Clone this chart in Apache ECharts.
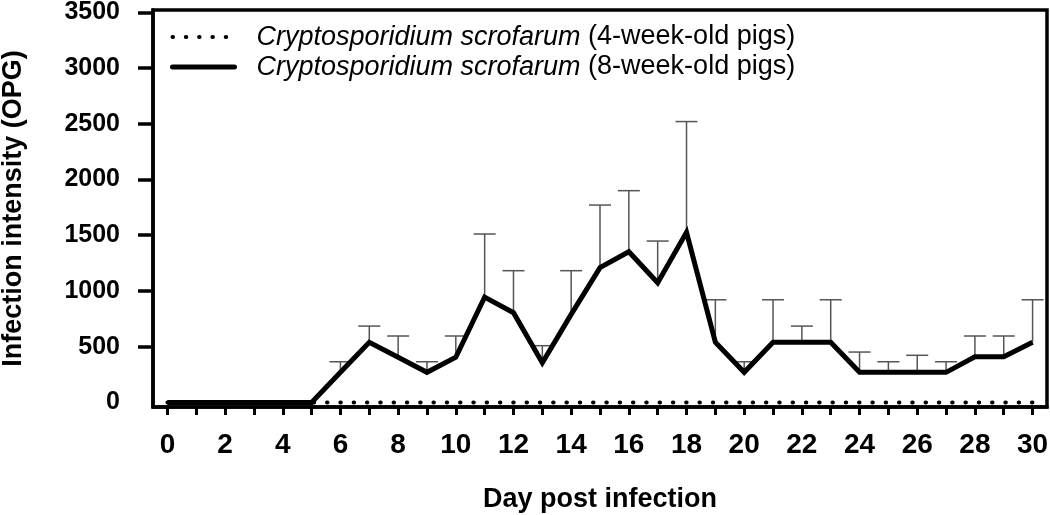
<!DOCTYPE html>
<html>
<head>
<meta charset="utf-8">
<script src="https://cdn.jsdelivr.net/npm/echarts@6/dist/echarts.min.js"></script>
<style>
html,body{margin:0;padding:0;background:#fff;}
#chart{width:1050px;height:515px;}
</style>
</head>
<body>
<div id="chart"></div>
<script>
// ---- data ----
const days = [0,1,2,3,4,5,6,7,8,9,10,11,12,13,14,15,16,17,18,19,20,21,22,23,24,25,26,27,28,29,30];
const pigs4wk = [0,0,0,0,0,0,0,0,0,0,0,0,0,0,0,0,0,0,0,0,0,0,0,0,0,0,0,0,0,0,0];
const pigs8wk = [0,0,0,0,0,0,270,540,405,270,405,945,805,356,790,1209,1352,1074,1526,540,270,540,540,540,270,270,270,270,410,410,540];
const pigs8wkErrTop = [null,null,null,null,null,null,365,685,596,365,596,1511,1182,509,1182,1771,1900,1448,2520,921,365,921,685,921,452,365,423,365,596,596,921];
const xTickLabels = [0,2,4,6,8,10,12,14,16,18,20,22,24,26,28,30];
const xTicks = [0,1,2,3,4,5,6,7,8,9,10,11,12,13,14,15,16,17,18,19,20,21,22,23,24,25,26,27,28,29,30];
const yTickLabels = [0,500,1000,1500,2000,2500,3000,3500];
const yTicks = [500,1000,1500,2000,2500,3000,3500];
const seriesNames = ['Cryptosporidium scrofarum (4-week-old pigs)', 'Cryptosporidium scrofarum (8-week-old pigs)'];

const FONT = '"Liberation Sans", Arial, sans-serif';

const lineData4 = days.map((d, i) => [d, pigs4wk[i]]);
const lineData8 = days.map((d, i) => [d, pigs8wk[i]]);
const errData = days.map((d, i) => [d, pigs8wk[i], pigs8wkErrTop[i]]).filter(r => r[2] !== null);

const chart = echarts.init(document.getElementById('chart'), null, {renderer: 'canvas'});
chart.setOption({
  animation: false,
  backgroundColor: '#fff',
  grid: {
    left: 153, right: 3, top: 10, bottom: 108,
    containLabel: false,
    outerBoundsMode: 'none',
    show: true, borderColor: '#000', borderWidth: 3.5, backgroundColor: 'transparent'
  },
  legend: {
    orient: 'vertical',
    left: 170, top: 22,
    padding: 0,
    itemGap: 0,
    itemWidth: 62, itemHeight: 14,
    data: seriesNames,
    itemStyle: {color: 'rgba(0,0,0,0)', borderColor: 'rgba(0,0,0,0)', borderWidth: 0, opacity: 0},
    lineStyle: {width: 'inherit', type: 'inherit', cap: 'round'},
    formatter: function (name) {
      const m = name.match(/^(\S+ \S+) (.*)$/);
      return '{i|' + m[1] + '} {n|' + m[2] + '}';
    },
    textStyle: {
      fontFamily: FONT, fontSize: 27, color: '#000', lineHeight: 30,
      padding: [0, 0, 0, 17],
      rich: {
        i: {fontFamily: FONT, fontSize: 27, fontStyle: 'italic', color: '#000', lineHeight: 30},
        n: {fontFamily: FONT, fontSize: 27, color: '#000', lineHeight: 30}
      }
    }
  },
  xAxis: {
    type: 'value',
    min: -0.5, max: 30.5,
    name: 'Day post infection',
    nameLocation: 'middle',
    nameGap: 79,
    nameTextStyle: {fontFamily: FONT, fontSize: 27, fontWeight: 'bold', color: '#000'},
    axisLine: {show: true, onZero: false, lineStyle: {color: '#000', width: 3.5}},
    axisTick: {show: true, length: 8, inside: false, customValues: xTicks, lineStyle: {color: '#000', width: 3}},
    axisLabel: {show: true, margin: 24, customValues: xTickLabels, fontFamily: FONT, fontSize: 28, fontWeight: 'bold', color: '#000',
      formatter: v => String(v)},
    splitLine: {show: false}
  },
  yAxis: {
    type: 'value',
    min: -41, max: 3521,
    name: 'Infection intensity (OPG)',
    nameLocation: 'middle',
    nameRotate: 90,
    nameGap: 126,
    nameTextStyle: {fontFamily: FONT, fontSize: 27, fontWeight: 'bold', color: '#000'},
    axisLine: {show: true, onZero: false, lineStyle: {color: '#000', width: 3.5}},
    axisTick: {show: true, length: 15, inside: false, customValues: yTicks, lineStyle: {color: '#000', width: 3.5}},
    axisLabel: {show: true, margin: 33, customValues: yTickLabels, fontFamily: FONT, fontSize: 25, fontWeight: 'bold', color: '#000',
      formatter: v => String(v)},
    splitLine: {show: false}
  },
  series: [
    {
      name: seriesNames[0],
      type: 'line',
      data: lineData4,
      showSymbol: false,
      symbol: 'none',
      z: 2,
      lineStyle: {color: '#000', width: 4, type: [0.5, 12.8], cap: 'round'},
      itemStyle: {color: '#000'}
    },
    {
      type: 'custom',
      name: 'err',
      data: errData,
      z: 3,
      renderItem: function (params, api) {
        const x = api.value(0);
        const p0 = api.coord([x, api.value(1)]);
        const p1 = api.coord([x, api.value(2)]);
        const hw = 11;
        const st = {stroke: '#555', lineWidth: 1.5};
        return {
          type: 'group',
          children: [
            {type: 'line', shape: {x1: p0[0], y1: p0[1], x2: p1[0], y2: p1[1]}, style: st},
            {type: 'line', shape: {x1: p1[0] - hw, y1: p1[1], x2: p1[0] + hw, y2: p1[1]}, style: st}
          ]
        };
      }
    },
    {
      name: seriesNames[1],
      type: 'line',
      data: lineData8,
      showSymbol: false,
      symbol: 'none',
      z: 4,
      lineStyle: {color: '#000', width: 5, cap: 'butt', join: 'miter'},
      itemStyle: {color: '#000'}
    }
  ]
});
</script>
</body>
</html>
